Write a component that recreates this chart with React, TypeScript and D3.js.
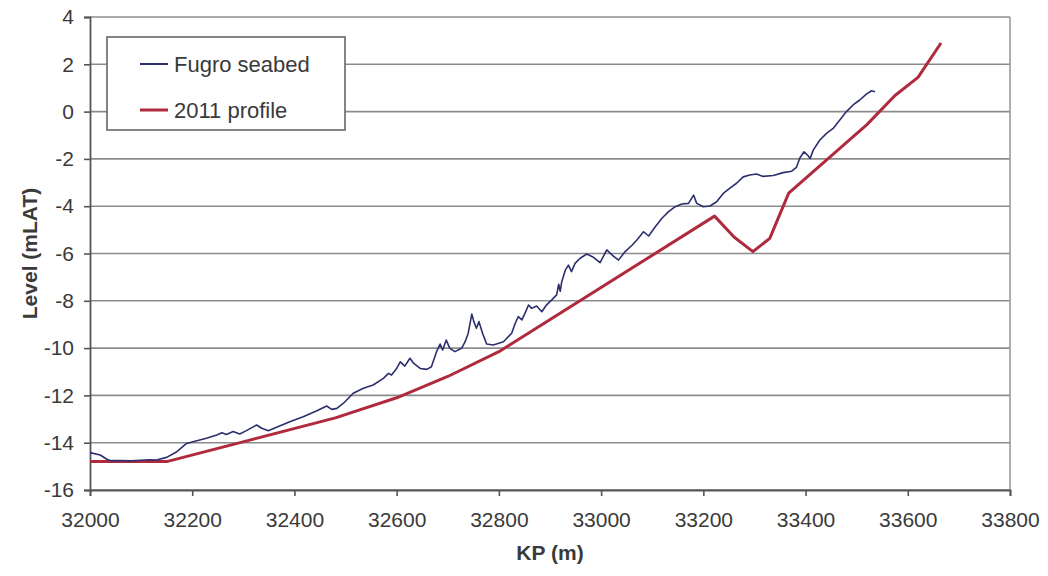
import React, { useRef, useEffect } from 'react';
import * as d3 from 'd3';

// Fugro seabed survey: [KP (m), level (mLAT)]
const fugroKP = [
  32000, 32020, 32033, 32040, 32060, 32080, 32100, 32115, 32130, 32150,
  32170, 32189, 32209, 32228, 32248, 32258, 32267, 32280, 32293, 32306,
  32326, 32336, 32349, 32365, 32391, 32417, 32444, 32463, 32473, 32483,
  32496, 32515, 32535, 32554, 32574, 32584, 32590, 32600, 32607, 32616,
  32626, 32633, 32646, 32659, 32668, 32678, 32685, 32690, 32697, 32704,
  32714, 32727, 32734, 32740, 32747, 32751, 32756, 32761, 32768, 32776,
  32789, 32809, 32825, 32832, 32838, 32845, 32851, 32858, 32864, 32874,
  32884, 32893, 32903, 32913, 32917, 32920, 32923, 32930, 32936, 32942,
  32949, 32959, 32972, 32985, 32998, 33011, 33024, 33034, 33047, 33061,
  33070, 33083, 33093, 33106, 33119, 33132, 33145, 33158, 33171, 33181,
  33187, 33200, 33213, 33226, 33239, 33252, 33265, 33278, 33291, 33304,
  33317, 33337, 33356, 33373, 33382, 33389, 33397, 33404, 33409, 33415,
  33428, 33441, 33454, 33467, 33480, 33493, 33506, 33519, 33529, 33536,
];
const fugroLevel = [
  -14.42, -14.52, -14.7, -14.76, -14.75, -14.77, -14.74, -14.72, -14.73, -14.62,
  -14.38, -14.03, -13.92, -13.81, -13.67, -13.58, -13.65, -13.53, -13.63, -13.49,
  -13.25, -13.39, -13.49, -13.35, -13.11, -12.9, -12.65, -12.45, -12.59, -12.55,
  -12.33, -11.91, -11.7, -11.56, -11.28, -11.07, -11.14, -10.86, -10.58, -10.76,
  -10.43, -10.64, -10.86, -10.9, -10.79, -10.15, -9.83, -10.08, -9.66, -10.01,
  -10.15, -10.01, -9.73, -9.37, -8.56, -8.88, -9.16, -8.88, -9.37, -9.83,
  -9.87, -9.73, -9.37, -8.95, -8.67, -8.81, -8.53, -8.18, -8.32, -8.22,
  -8.46, -8.18, -7.97, -7.75, -7.3, -7.6, -7.19, -6.7, -6.49, -6.77,
  -6.42, -6.2, -6.02, -6.16, -6.39, -5.85, -6.11, -6.28, -5.92, -5.64,
  -5.43, -5.08, -5.26, -4.87, -4.51, -4.23, -4.02, -3.91, -3.88, -3.53,
  -3.88, -4.02, -3.99, -3.81, -3.46, -3.24, -3.03, -2.76, -2.68, -2.64,
  -2.74, -2.7, -2.58, -2.52, -2.36, -1.95, -1.7, -1.84, -1.98, -1.63,
  -1.2, -0.92, -0.71, -0.36, 0.0, 0.28, 0.49, 0.74, 0.88, 0.84,
];

// 2011 design profile
const profileKP = [32000, 32150, 32480, 32600, 32700, 32800, 33222, 33260, 33297, 33330, 33367, 33520, 33575, 33620, 33665];
const profileLevel = [-14.8, -14.8, -12.95, -12.1, -11.2, -10.15, -4.42, -5.3, -5.92, -5.36, -3.45, -0.55, 0.68, 1.45, 2.9];

const xTicks = [32000, 32200, 32400, 32600, 32800, 33000, 33200, 33400, 33600, 33800];
const yTicks = [4, 2, 0, -2, -4, -6, -8, -10, -12, -14, -16];

const seriesNames = ['Fugro seabed', '2011 profile'];
const seriesColours = ['#2c2f6e', '#b02a3e'];

const W = 1048;
const H = 576;

const App = () => {
  const ref = useRef<SVGSVGElement>(null);

  useEffect(() => {
    const svg = d3.select(ref.current);
    svg.selectAll('*').remove();

    const x = d3.scaleLinear().domain([32000, 33800]).range([90, 1010]);
    const y = d3.scaleLinear().domain([-16, 4]).range([490, 17]);
    const font = 'Liberation Sans, Arial, sans-serif';
    const textCol = '#3a3a3a';

    const g = svg.append('g');

    // horizontal gridlines
    g.selectAll('line.grid')
      .data(yTicks)
      .enter()
      .append('line')
      .attr('x1', x(32000))
      .attr('x2', x(33800))
      .attr('y1', d => y(d))
      .attr('y2', d => y(d))
      .attr('stroke', '#8c8c8c')
      .attr('stroke-width', 1.6);

    // right border
    g.append('line')
      .attr('x1', x(33800)).attr('x2', x(33800))
      .attr('y1', y(4)).attr('y2', y(-16))
      .attr('stroke', '#9a9a9a').attr('stroke-width', 1.6);

    // axes (plain hyphen minus, like the source)
    const yAxis = d3.axisLeft(y).tickValues(yTicks).tickSize(6).tickPadding(10).tickFormat(d => String(d));
    const ya = g.append('g').attr('transform', `translate(${x(32000)},0)`).call(yAxis);
    const xAxis = d3.axisBottom(x).tickValues(xTicks).tickSize(6).tickPadding(16).tickFormat(d => String(d));
    const xa = g.append('g').attr('transform', `translate(0,${y(-16)})`).call(xAxis);

    [ya, xa].forEach(a => {
      a.select('.domain').attr('stroke', '#555').attr('stroke-width', 1.8);
      a.selectAll('.tick line').attr('stroke', '#555').attr('stroke-width', 1.6);
      a.selectAll('.tick text')
        .attr('fill', textCol)
        .style('font-family', font)
        .style('font-size', '21px');
    });

    // lines
    const line = d3.line<number>()
      .x(d => x(d[0]))
      .y(d => y(d[1]));

    const fugro = fugroKP.map((k, i) => [k, fugroLevel[i]]);
    const profile = profileKP.map((k, i) => [k, profileLevel[i]]);

    g.append('path')
      .datum(profile)
      .attr('d', line as any)
      .attr('fill', 'none')
      .attr('stroke', seriesColours[1])
      .attr('stroke-width', 3)
      .attr('stroke-linejoin', 'round');

    g.append('path')
      .datum(fugro)
      .attr('d', line as any)
      .attr('fill', 'none')
      .attr('stroke', seriesColours[0])
      .attr('stroke-width', 1.6)
      .attr('stroke-linejoin', 'round');

    // legend
    const lg = g.append('g');
    lg.append('rect')
      .attr('x', 107).attr('y', 37)
      .attr('width', 238).attr('height', 93)
      .attr('fill', '#fff')
      .attr('stroke', '#666').attr('stroke-width', 1.6);
    seriesNames.forEach((name, i) => {
      const cy = 64 + i * 46;
      lg.append('line')
        .attr('x1', 140).attr('x2', 168)
        .attr('y1', cy).attr('y2', cy)
        .attr('stroke', seriesColours[i])
        .attr('stroke-width', i === 0 ? 2 : 3);
      lg.append('text')
        .attr('x', 174).attr('y', cy)
        .attr('dy', '0.35em')
        .attr('fill', textCol)
        .style('font-family', font)
        .style('font-size', '22px')
        .text(name);
    });

    // axis titles
    g.append('text')
      .attr('transform', `translate(30,${(y(4) + y(-16)) / 2}) rotate(-90)`)
      .attr('text-anchor', 'middle')
      .attr('dy', '0.35em')
      .attr('fill', textCol)
      .style('font-family', font)
      .style('font-size', '21px')
      .style('font-weight', 'bold')
      .text('Level (mLAT)');

    g.append('text')
      .attr('x', (x(32000) + x(33800)) / 2)
      .attr('y', 553)
      .attr('text-anchor', 'middle')
      .attr('dy', '0.35em')
      .attr('fill', textCol)
      .style('font-family', font)
      .style('font-size', '21px')
      .style('font-weight', 'bold')
      .text('KP (m)');

    return () => {
      svg.selectAll('*').remove();
    };
  }, []);

  return (
    <div style={{ position: 'absolute', left: 0, top: 0 }}>
      <svg ref={ref} width={W} height={H} style={{ display: 'block', background: '#fff' }} />
    </div>
  );
};

export default App;
